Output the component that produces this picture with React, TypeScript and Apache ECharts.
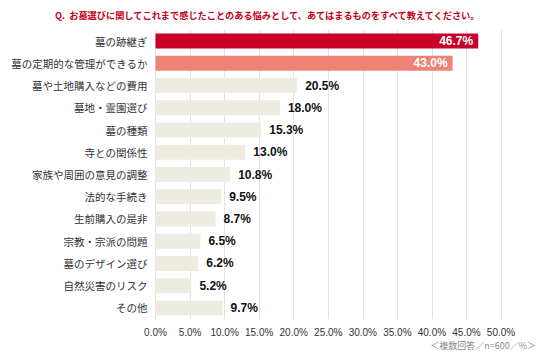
import React, { useEffect, useRef } from "react";
import * as echarts from "echarts";

const categories = [
  "墓の跡継ぎ",
  "墓の定期的な管理ができるか",
  "墓や土地購入などの費用",
  "墓地・霊園選び",
  "墓の種類",
  "寺との関係性",
  "家族や周囲の意見の調整",
  "法的な手続き",
  "生前購入の是非",
  "宗教・宗派の問題",
  "墓のデザイン選び",
  "自然災害のリスク",
  "その他",
];
const values = [46.7, 43.0, 20.5, 18.0, 15.3, 13.0, 10.8, 9.5, 8.7, 6.5, 6.2, 5.2, 9.7];
const barColors = ["#C8002A", "#EE8377"];
const defaultColor = "#EEEBE1";
const titleText = "Q.  お墓選びに関してこれまで感じたことのある悩みとして、あてはまるものをすべて教えてください。";
const noteText = "＜複数回答／n=600／%＞";

export default function App() {
  const ref = useRef<HTMLDivElement>(null);
  useEffect(() => {
    if (!ref.current) return;
    const chart = echarts.init(ref.current, null, { renderer: "svg" });
    const font = "'Noto Sans CJK JP', sans-serif";
    const numFont = "'Liberation Sans', Arial, sans-serif";
    chart.setOption({
      animation: false,
      title: {
        text: titleText,
        left: 47,
        top: 1,
        padding: 0,
        textStyle: { color: "#C40020", fontSize: 9.2, lineHeight: 12, fontWeight: "bold", fontFamily: font },
      },
      graphic: [
        {
          type: "text",
          right: 15,
          top: 333,
          style: { text: noteText, fill: "#888", fontSize: 9, fontFamily: font },
        },
      ],
      grid: { left: 143, right: 50, top: 22, bottom: 45, containLabel: false },
      xAxis: {
        type: "value",
        min: 0,
        max: 50,
        interval: 5,
        axisLabel: {
          formatter: (v: number) => v.toFixed(1) + "%",
          color: "#333",
          fontSize: 10,
          fontFamily: numFont,
          margin: 8,
        },
        axisLine: { show: false },
        axisTick: { show: false },
        splitLine: { show: true, lineStyle: { color: "#E2E2E2", width: 1 } },
      },
      yAxis: {
        type: "category",
        data: categories,
        inverse: true,
        axisLabel: { color: "#333", fontSize: 10.5, fontFamily: font, margin: 8 },
        axisLine: { show: true, lineStyle: { color: "#E2E2E2" } },
        axisTick: { show: false },
        splitLine: { show: false },
      },
      series: [
        {
          type: "bar",
          data: values.map((v, i) => ({
            value: v,
            itemStyle: { color: barColors[i] ?? defaultColor },
            label:
              i < 2
                ? { show: true, position: "insideRight", color: "#fff", distance: 5 }
                : { show: true, position: "right", color: "#111", distance: 8 },
          })),
          barWidth: 15,
          label: {
            show: true,
            fontSize: 12,
            fontWeight: "bold",
            fontFamily: numFont,
            formatter: (p: any) => p.value.toFixed(1) + "%",
          },
        },
      ],
    });
    return () => chart.dispose();
  }, []);
  return <div ref={ref} style={{ width: 543, height: 356 }} />;
}
